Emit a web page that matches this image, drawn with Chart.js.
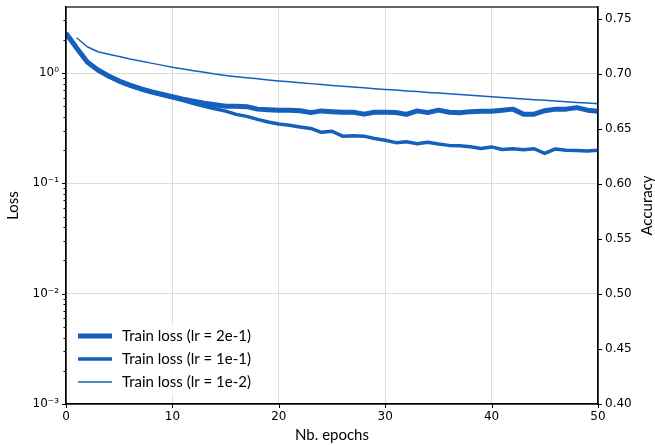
<!DOCTYPE html>
<html>
<head>
<meta charset="utf-8">
<script src="https://cdn.jsdelivr.net/npm/chart.js@4/dist/chart.umd.min.js"></script>
<style>
  body { margin: 0; background: #fff; }
</style>
</head>
<body>
<canvas id="lossChart" width="655" height="445"></canvas>
<script>
let seriesLabels = ['Train loss (lr = 2e-1)', 'Train loss (lr = 1e-1)', 'Train loss (lr = 1e-2)'];

let epochs = [0, 1, 2, 3, 4, 5, 6, 7, 8, 9, 10, 11, 12, 13, 14, 15, 16, 17, 18, 19, 20,
  21, 22, 23, 24, 25, 26, 27, 28, 29, 30, 31, 32, 33, 34, 35, 36, 37, 38, 39, 40,
  41, 42, 43, 44, 45, 46, 47, 48, 49, 50];
let epochsLr1e2 = [1, 2, 3, 4, 5, 6, 7, 8, 9, 10, 11, 12, 13, 14, 15, 16, 17, 18, 19, 20,
  21, 22, 23, 24, 25, 26, 27, 28, 29, 30, 31, 32, 33, 34, 35, 36, 37, 38, 39, 40,
  41, 42, 43, 44, 45, 46, 47, 48, 49, 50];

let lossLr2e1 = [2.3, 1.69, 1.26, 1.065, 0.94, 0.846, 0.778, 0.723, 0.679, 0.644, 0.611,
  0.58, 0.556, 0.534, 0.517, 0.501, 0.501, 0.496, 0.471, 0.466, 0.461,
  0.461, 0.456, 0.438, 0.454, 0.447, 0.442, 0.442, 0.424, 0.442, 0.442,
  0.439, 0.422, 0.454, 0.438, 0.461, 0.442, 0.436, 0.447, 0.451, 0.451,
  0.461, 0.471, 0.424, 0.424, 0.456, 0.471, 0.471, 0.486, 0.461, 0.451];
let lossLr1e1 = [2.3, 1.68, 1.25, 1.05, 0.93, 0.835, 0.765, 0.71, 0.665, 0.63, 0.595,
  0.562, 0.53, 0.5, 0.475, 0.452, 0.422, 0.405, 0.38, 0.36, 0.345,
  0.337, 0.325, 0.315, 0.29, 0.297, 0.268, 0.27, 0.268, 0.255, 0.246,
  0.234, 0.238, 0.229, 0.236, 0.227, 0.221, 0.219, 0.215, 0.207, 0.214,
  0.203, 0.206, 0.202, 0.206, 0.187, 0.205, 0.2, 0.199, 0.197, 0.2];
let lossLr1e2 = [2.09, 1.73, 1.56, 1.48, 1.41, 1.34, 1.285, 1.23, 1.18, 1.13,
  1.09, 1.05, 1.015, 0.98, 0.952, 0.926, 0.905, 0.886, 0.866, 0.847,
  0.832, 0.817, 0.802, 0.787, 0.773, 0.76, 0.747, 0.735, 0.722, 0.71,
  0.701, 0.689, 0.679, 0.668, 0.658, 0.648, 0.638, 0.628, 0.618, 0.609,
  0.6, 0.591, 0.583, 0.574, 0.566, 0.558, 0.55, 0.542, 0.534, 0.526];

let logTickValues = [0.001, 0.01, 0.1, 1];
let logTickLabels = ['10⁻³', '10⁻²', '10⁻¹', '10⁰'];
let logMinorSteps = [2, 3, 4, 5, 6, 7, 8, 9];

let lineColor = '#1560bd';
let tickFont = { family: 'DejaVu Sans', size: 12 };
let labelFont = { family: 'Lato', size: 15 };

function points(xs, ys) {
  return xs.map((x, i) => ({ x: x, y: ys[i] }));
}

function majorLabel(v) {
  let i = logTickValues.findIndex(t => Math.abs(Math.log10(t) - Math.log10(v)) < 1e-6);
  return i >= 0 ? logTickLabels[i] : '';
}

// matplotlib-like extras: tick marks, frame, legend inside the axes, right axis title
const extras = {
  id: 'extras',
  afterDatasetsDraw(chart) {
    const { ctx, chartArea, scales } = chart;
    ctx.save();
    // outward tick marks (minor ones shorter on the log axis)
    ctx.strokeStyle = '#000';
    ctx.lineWidth = 1;
    ctx.beginPath();
    scales.y.ticks.forEach(t => {
      let py = Math.round(scales.y.getPixelForValue(t.value)) + 0.5;
      let len = majorLabel(t.value) ? 4 : 2.5;
      ctx.moveTo(chartArea.left - len, py);
      ctx.lineTo(chartArea.left, py);
    });
    scales.y2.ticks.forEach(t => {
      let py = Math.round(scales.y2.getPixelForValue(t.value)) + 0.5;
      ctx.moveTo(chartArea.right, py);
      ctx.lineTo(chartArea.right + 4, py);
    });
    scales.x.ticks.forEach(t => {
      let px = Math.round(scales.x.getPixelForValue(t.value)) + 0.5;
      ctx.moveTo(px, chartArea.bottom);
      ctx.lineTo(px, chartArea.bottom + 4);
    });
    ctx.stroke();
    // legend box
    let bx = chartArea.left + 6, by = chartArea.bottom - 81;
    ctx.fillStyle = 'rgba(255,255,255,0.85)';
    ctx.fillRect(bx, by, 190, 72);
    ctx.font = labelFont.size + 'px ' + labelFont.family;
    ctx.textBaseline = 'middle';
    chart.data.datasets.forEach((ds, i) => {
      let y = chartArea.bottom - 68 + i * 23;
      let x = chartArea.left + 12;
      ctx.strokeStyle = ds.borderColor;
      ctx.lineWidth = ds.borderWidth;
      ctx.beginPath();
      ctx.moveTo(x, y);
      ctx.lineTo(x + 34, y);
      ctx.stroke();
      ctx.fillStyle = '#000';
      ctx.fillText(ds.label, x + 44, y);
    });
    // frame
    ctx.strokeStyle = '#000';
    ctx.lineWidth = 1.2;
    ctx.strokeRect(chartArea.left, chartArea.top, chartArea.right - chartArea.left, chartArea.bottom - chartArea.top);
    // right title, reading upwards like matplotlib
    ctx.translate(647, (chartArea.top + chartArea.bottom) / 2);
    ctx.rotate(-Math.PI / 2);
    ctx.textAlign = 'center';
    ctx.fillText('Accuracy', 0, 0);
    ctx.restore();
  }
};

let chart = new Chart(document.getElementById('lossChart').getContext('2d'), {
  type: 'line',
  data: {
    datasets: [
      { label: seriesLabels[0], data: points(epochs, lossLr2e1), borderColor: lineColor, borderWidth: 5 },
      { label: seriesLabels[1], data: points(epochs, lossLr1e1), borderColor: lineColor, borderWidth: 3.5 },
      { label: seriesLabels[2], data: points(epochsLr1e2, lossLr1e2), borderColor: lineColor, borderWidth: 1.5 }
    ]
  },
  options: {
    responsive: false,
    animation: false,
    devicePixelRatio: 1,
    layout: { padding: { top: 7, left: 0, right: 0, bottom: 0 } },
    elements: {
      point: { radius: 0 },
      line: { tension: 0, borderJoinStyle: 'round', borderCapStyle: 'butt' }
    },
    plugins: {
      legend: { display: false },
      tooltip: { enabled: false }
    },
    scales: {
      x: {
        type: 'linear',
        min: 0,
        max: 50,
        ticks: { stepSize: 10, font: tickFont, color: '#000', padding: 6, maxRotation: 0 },
        grid: { color: '#dcdcdc', drawTicks: false },
        border: { color: '#000', width: 1.2 },
        title: { display: true, text: 'Nb. epochs', font: labelFont, color: '#000', padding: { top: 0, bottom: 1 } },
        afterFit(s) { s.height = 41; s.paddingLeft = 0; s.paddingRight = 0; }
      },
      y: {
        type: 'logarithmic',
        position: 'left',
        min: 0.001,
        max: 3.97,
        afterBuildTicks(s) {
          // major decades plus minor 2..9 steps, as in the reference
          let ticks = [];
          logTickValues.forEach(t => {
            ticks.push({ value: t, major: true });
            logMinorSteps.forEach(m => {
              if (t * m <= s.max) ticks.push({ value: t * m });
            });
          });
          s.ticks = ticks;
        },
        ticks: {
          autoSkip: false,
          font: tickFont,
          color: '#000',
          padding: 7,
          callback: v => majorLabel(v)
        },
        grid: {
          color: c => majorLabel(c.tick.value) ? '#dcdcdc' : 'rgba(0,0,0,0)',
          drawTicks: false
        },
        border: { color: '#000', width: 1.2 },
        title: { display: true, text: 'Loss', font: labelFont, color: '#000', padding: { top: 4, bottom: 0 } },
        afterFit(s) { s.width = 66; s.paddingTop = 0; s.paddingBottom = 0; }
      },
      y2: {
        type: 'linear',
        position: 'right',
        min: 0.40,
        max: 0.761,
        ticks: {
          stepSize: 0.05,
          includeBounds: false,
          font: tickFont,
          color: '#000',
          padding: 7,
          callback: v => v.toFixed(2)
        },
        grid: { drawOnChartArea: false, drawTicks: false },
        border: { color: '#000', width: 1.2 },
        afterFit(s) { s.width = 57; s.paddingTop = 0; s.paddingBottom = 0; }
      }
    }
  },
  plugins: [extras]
});
</script>
</body>
</html>
